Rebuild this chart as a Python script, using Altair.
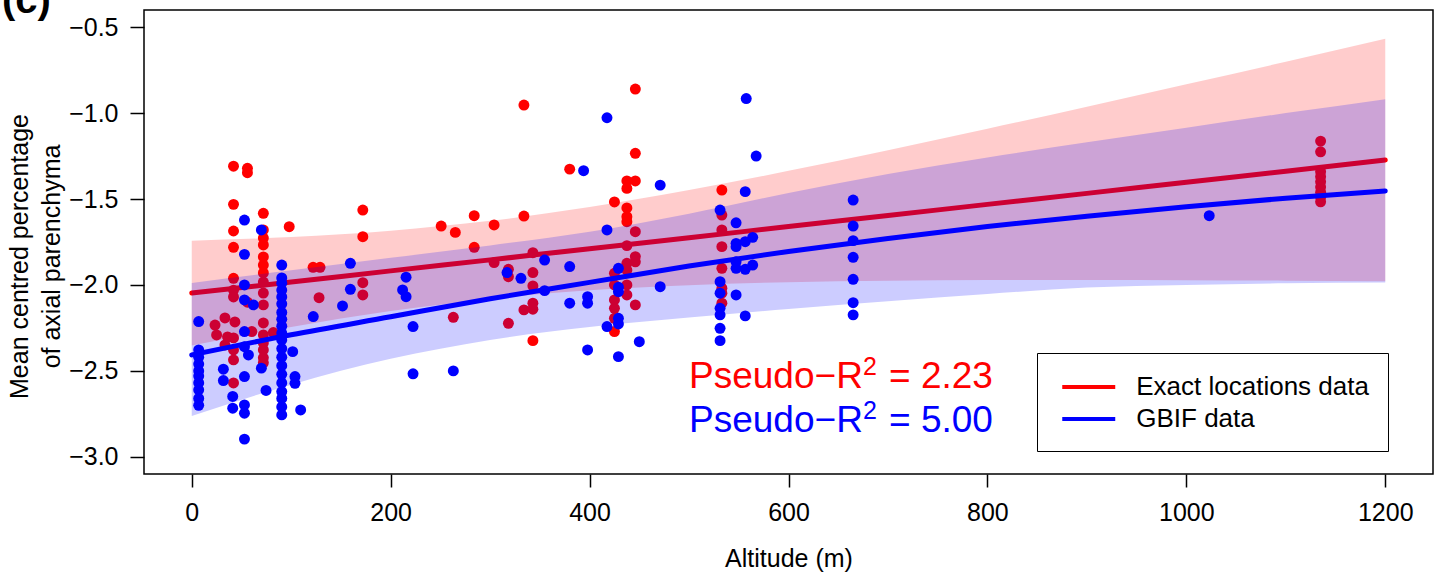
import altair as alt
import pandas as pd

FONT = "Liberation Sans"
series = ["Exact locations data", "GBIF data"]
colors = ["#FF0000", "#0000FF"]

# fitted curves and confidence bands
grid_alt = [0, 100, 200, 300, 400, 500, 600, 700, 800, 900, 1000, 1100, 1200]
exact_fit = [-2.047, -1.983, -1.918, -1.854, -1.789, -1.725, -1.660, -1.596, -1.531, -1.467, -1.402, -1.338, -1.273]
exact_up = [-1.742, -1.721, -1.684, -1.627, -1.547, -1.448, -1.336, -1.216, -1.091, -0.963, -0.832, -0.701, -0.567]
exact_lo = [-2.352, -2.245, -2.152, -2.081, -2.031, -2.002, -1.984, -1.976, -1.971, -1.971, -1.972, -1.975, -1.979]
gbif_fit = [-2.407, -2.290, -2.185, -2.080, -1.985, -1.890, -1.805, -1.730, -1.660, -1.600, -1.545, -1.495, -1.453]
gbif_up = [-1.988, -1.915, -1.842, -1.770, -1.690, -1.585, -1.465, -1.355, -1.258, -1.170, -1.085, -1.000, -0.919]
gbif_lo = [-2.762, -2.580, -2.430, -2.320, -2.245, -2.190, -2.140, -2.095, -2.052, -2.015, -2.000, -1.990, -1.985]

# observations (altitude, value)
exact_points = [
    (42, -1.309), (42, -1.531), (42, -1.686), (42, -1.781), (42, -1.961), (42, -2.03), (42, -2.07),
    (42, -2.308), (42, -2.378), (42, -2.436), (42, -2.57),
    (56, -1.321), (56, -1.347), (56, -2.10),
    (72, -1.583), (72, -1.680), (72, -1.727), (72, -1.767), (72, -1.837), (72, -1.884), (72, -1.930),
    (72, -1.983), (72, -2.047), (72, -2.116), (72, -2.221), (72, -2.291), (72, -2.337), (72, -2.378),
    (72, -2.424), (72, -2.453),
    (98, -1.661), (122, -1.897), (129, -1.897), (128, -2.074),
    (23.4, -2.233), (33.4, -2.192), (43.4, -2.215), (25, -2.291), (36, -2.302), (33.4, -2.349),
    (60.4, -2.271), (82, -2.277),
    (172, -1.564), (172, -1.719), (172, -1.987), (172, -2.058),
    (250.8, -1.657), (265, -1.694), (284, -1.597), (284, -1.781), (304, -1.651), (304, -1.870),
    (334, -0.953), (334, -1.599), (334, -2.145), (380, -1.326), (263, -2.188),
    (318.4, -1.909), (318.4, -1.952), (318.4, -2.223),
    (343, -1.812), (343, -1.928), (343, -2.006), (343, -2.106), (343, -2.141), (343, -2.324),
    (425, -1.517), (425, -1.932), (425, -2.0), (425, -2.087), (425, -2.136), (425, -2.194), (425, -2.271),
    (437.5, -1.395), (437.5, -1.438), (437.5, -1.552), (437.5, -1.603), (437.5, -1.632), (437.5, -1.771),
    (437.5, -1.874), (437.5, -1.913), (437.5, -2.0), (437.5, -2.058),
    (446, -0.86), (446, -1.234), (446, -1.395), (446, -1.69), (446, -1.835), (446, -1.865), (446, -2.116),
    (533, -1.448), (533, -1.593), (533, -1.680), (533, -1.777), (533, -1.903), (533, -2.019), (533, -2.048),
    (533, -2.106),
    (1135, -1.163), (1135, -1.225), (1135, -1.341), (1135, -1.37), (1135, -1.40), (1135, -1.43),
    (1135, -1.46), (1135, -1.49), (1135, -1.516),
]
gbif_points = [
    (7, -2.213), (7, -2.378), (7, -2.42), (7, -2.46), (7, -2.50), (7, -2.53), (7, -2.57), (7, -2.61),
    (7, -2.66), (7, -2.70),
    (31.8, -2.49), (31.8, -2.556), (41.2, -2.649), (41.2, -2.717),
    (53, -1.622), (53, -1.822), (53, -2.0), (53, -2.087), (53, -2.271), (53, -2.359), (53, -2.533),
    (53, -2.698), (53, -2.746), (53, -2.897), (62, -2.116), (57, -2.407),
    (70, -1.680), (70, -2.484), (74.7, -2.614),
    (90.5, -1.884), (90.5, -1.959), (90.5, -1.99), (90.5, -2.03), (90.5, -2.07), (90.5, -2.11),
    (90.5, -2.16), (90.5, -2.20), (90.5, -2.24), (90.5, -2.28), (90.5, -2.32), (90.5, -2.37),
    (90.5, -2.42), (90.5, -2.47), (90.5, -2.52), (90.5, -2.57), (90.5, -2.62), (90.5, -2.66),
    (90.5, -2.71), (90.5, -2.756),
    (101.5, -2.388), (103.8, -2.533), (103.8, -2.572), (109.5, -2.727), (122.2, -2.184),
    (159.5, -1.874), (159.5, -2.025), (151.6, -2.122),
    (215.5, -1.955), (215.5, -2.068), (212, -2.029), (222.5, -2.242), (222.5, -2.517), (263, -2.50),
    (317, -1.928), (331, -1.961), (354.8, -1.855), (354.8, -2.033), (380, -1.893), (380, -2.106),
    (394, -1.335), (398, -2.068), (398, -2.106), (398, -2.378),
    (417.5, -1.027), (417.5, -1.680), (417.5, -2.242),
    (429, -1.903), (429, -2.013), (429, -2.039), (429, -2.194), (429, -2.227), (429, -2.417),
    (450, -2.330), (471, -1.419), (471, -2.010),
    (531.2, -1.564), (531.2, -1.981), (531.2, -2.048), (531.2, -2.136), (531.2, -2.174), (531.2, -2.252),
    (531.2, -2.324),
    (547.3, -1.638), (547.3, -1.758), (547.3, -1.777), (547.3, -1.865), (547.3, -1.903), (547.3, -2.058),
    (556.5, -1.457), (556.5, -1.748), (556.5, -1.909), (556.5, -2.180), (557.5, -0.915),
    (564, -1.723), (564, -1.884), (567.5, -1.25),
    (665, -1.506), (665, -1.657), (665, -1.742), (665, -1.839), (665, -1.967), (665, -2.103), (665, -2.174),
    (1023, -1.597),
]

r2_values = ["= 2.23", "= 5.00"]
r2_y = [-2.600, -2.856]
r2_x = [500, 500]

x_ticks = [0, 200, 400, 600, 800, 1000, 1200]
y_ticks = [-3.0, -2.5, -2.0, -1.5, -1.0, -0.5]

curves = pd.concat([
    pd.DataFrame({"series": series[0], "altitude": grid_alt, "fit": exact_fit, "lower": exact_lo, "upper": exact_up}),
    pd.DataFrame({"series": series[1], "altitude": grid_alt, "fit": gbif_fit, "lower": gbif_lo, "upper": gbif_up}),
])
points = pd.concat([
    pd.DataFrame({"series": series[0], "altitude": [p[0] for p in exact_points], "fit": [p[1] for p in exact_points]}),
    pd.DataFrame({"series": series[1], "altitude": [p[0] for p in gbif_points], "fit": [p[1] for p in gbif_points]}),
])
ann = pd.DataFrame({"series": series, "altitude": r2_x, "fit": r2_y, "rest": r2_values,
                    "prefix": ["Pseudo\u2212R", "Pseudo\u2212R"], "sup": ["2", "2"]})

xscale = alt.Scale(domain=[-48, 1248], nice=False, zero=False)
yscale = alt.Scale(domain=[-3.1, -0.4], nice=False, zero=False)
xaxis = alt.Axis(values=x_ticks, title="Altitude (m)", titleY=92, titleBaseline="alphabetic",
                 tickSize=13, labelPadding=13, format="d")
yaxis = alt.Axis(values=y_ticks, format=".1f", title=["Mean centred percentage", "of axial parenchyma"],
                 tickSize=14, labelPadding=12, titleAngle=270, titleX=-117, titleY=246,
                 titleBaseline="alphabetic", titleAlign="center", titleLineHeight=32)


def X():
    return alt.X("altitude:Q", scale=xscale, axis=xaxis)


def Y(f="fit"):
    return alt.Y(f"{f}:Q", scale=yscale, axis=yaxis)


color_scale = alt.Scale(domain=series, range=colors)
legend = alt.Legend(title=None, orient="none", legendX=893, legendY=343, direction="vertical",
                    symbolType="M-2,0H2", symbolSize=702, symbolStrokeWidth=4, symbolOpacity=1,
                    symbolOffset=17.75,
                    labelFontSize=26, labelFont=FONT, labelColor="black", labelOffset=32, labelLimit=500,
                    padding=18.5, rowPadding=3, strokeColor="black", fillColor="white")


def layers_for(i):
    s = series[i]
    c = colors[i]
    cd = alt.Chart(curves).transform_filter(alt.datum.series == s)
    pdx = alt.Chart(points).transform_filter(alt.datum.series == s)
    band = cd.mark_area(opacity=0.2, color=c, interpolate="monotone").encode(
        x=X(), y=Y("lower"), y2="upper:Q")
    dots = pdx.mark_circle(size=120, opacity=1, color=c).encode(x=X(), y=Y())
    line = cd.mark_line(strokeWidth=5, strokeCap="round", interpolate="monotone").encode(
        x=X(), y=Y(),
        color=alt.Color("series:N", scale=color_scale, legend=legend))
    return [band, dots, line]


base_ann = alt.Chart(ann)
ann_prefix = base_ann.mark_text(align="left", baseline="alphabetic", fontSize=37, font=FONT, color="black").encode(
    x=X(), y=Y(), text="prefix:N",
    fill=alt.Fill("series:N", scale=color_scale, legend=None))
ann_sup = base_ann.mark_text(align="left", baseline="alphabetic", fontSize=25, font=FONT, dx=174, dy=-13).encode(
    x=X(), y=Y(), text="sup:N",
    fill=alt.Fill("series:N", scale=color_scale, legend=None))
ann_rest = base_ann.mark_text(align="left", baseline="alphabetic", fontSize=37, font=FONT, dx=200).encode(
    x=X(), y=Y(), text="rest:N",
    fill=alt.Fill("series:N", scale=color_scale, legend=None))

panel = alt.Chart(pd.DataFrame({"t": ["(c)"]})).mark_text(
    align="left", baseline="alphabetic", fontSize=40, fontWeight="bold", font=FONT, color="black"
).encode(text="t:N", x=alt.value(-142), y=alt.value(3))

chart = alt.layer(
    *layers_for(0), *layers_for(1), ann_prefix, ann_sup, ann_rest, panel
).properties(
    width=1289, height=464,
    autosize=alt.AutoSizeParams(type="none"),
    padding={"left": 144, "top": 10, "right": 11, "bottom": 103},
).configure_view(
    stroke="black", strokeWidth=1.5
).configure_axis(
    grid=False, domain=False, tickColor="black", tickWidth=1.5,
    labelFont=FONT, labelFontSize=25, labelColor="black",
    titleFont=FONT, titleFontSize=25, titleFontWeight="normal", titleColor="black",
)

chart.save("out.html", embed_options={"renderer": "svg", "actions": False})
